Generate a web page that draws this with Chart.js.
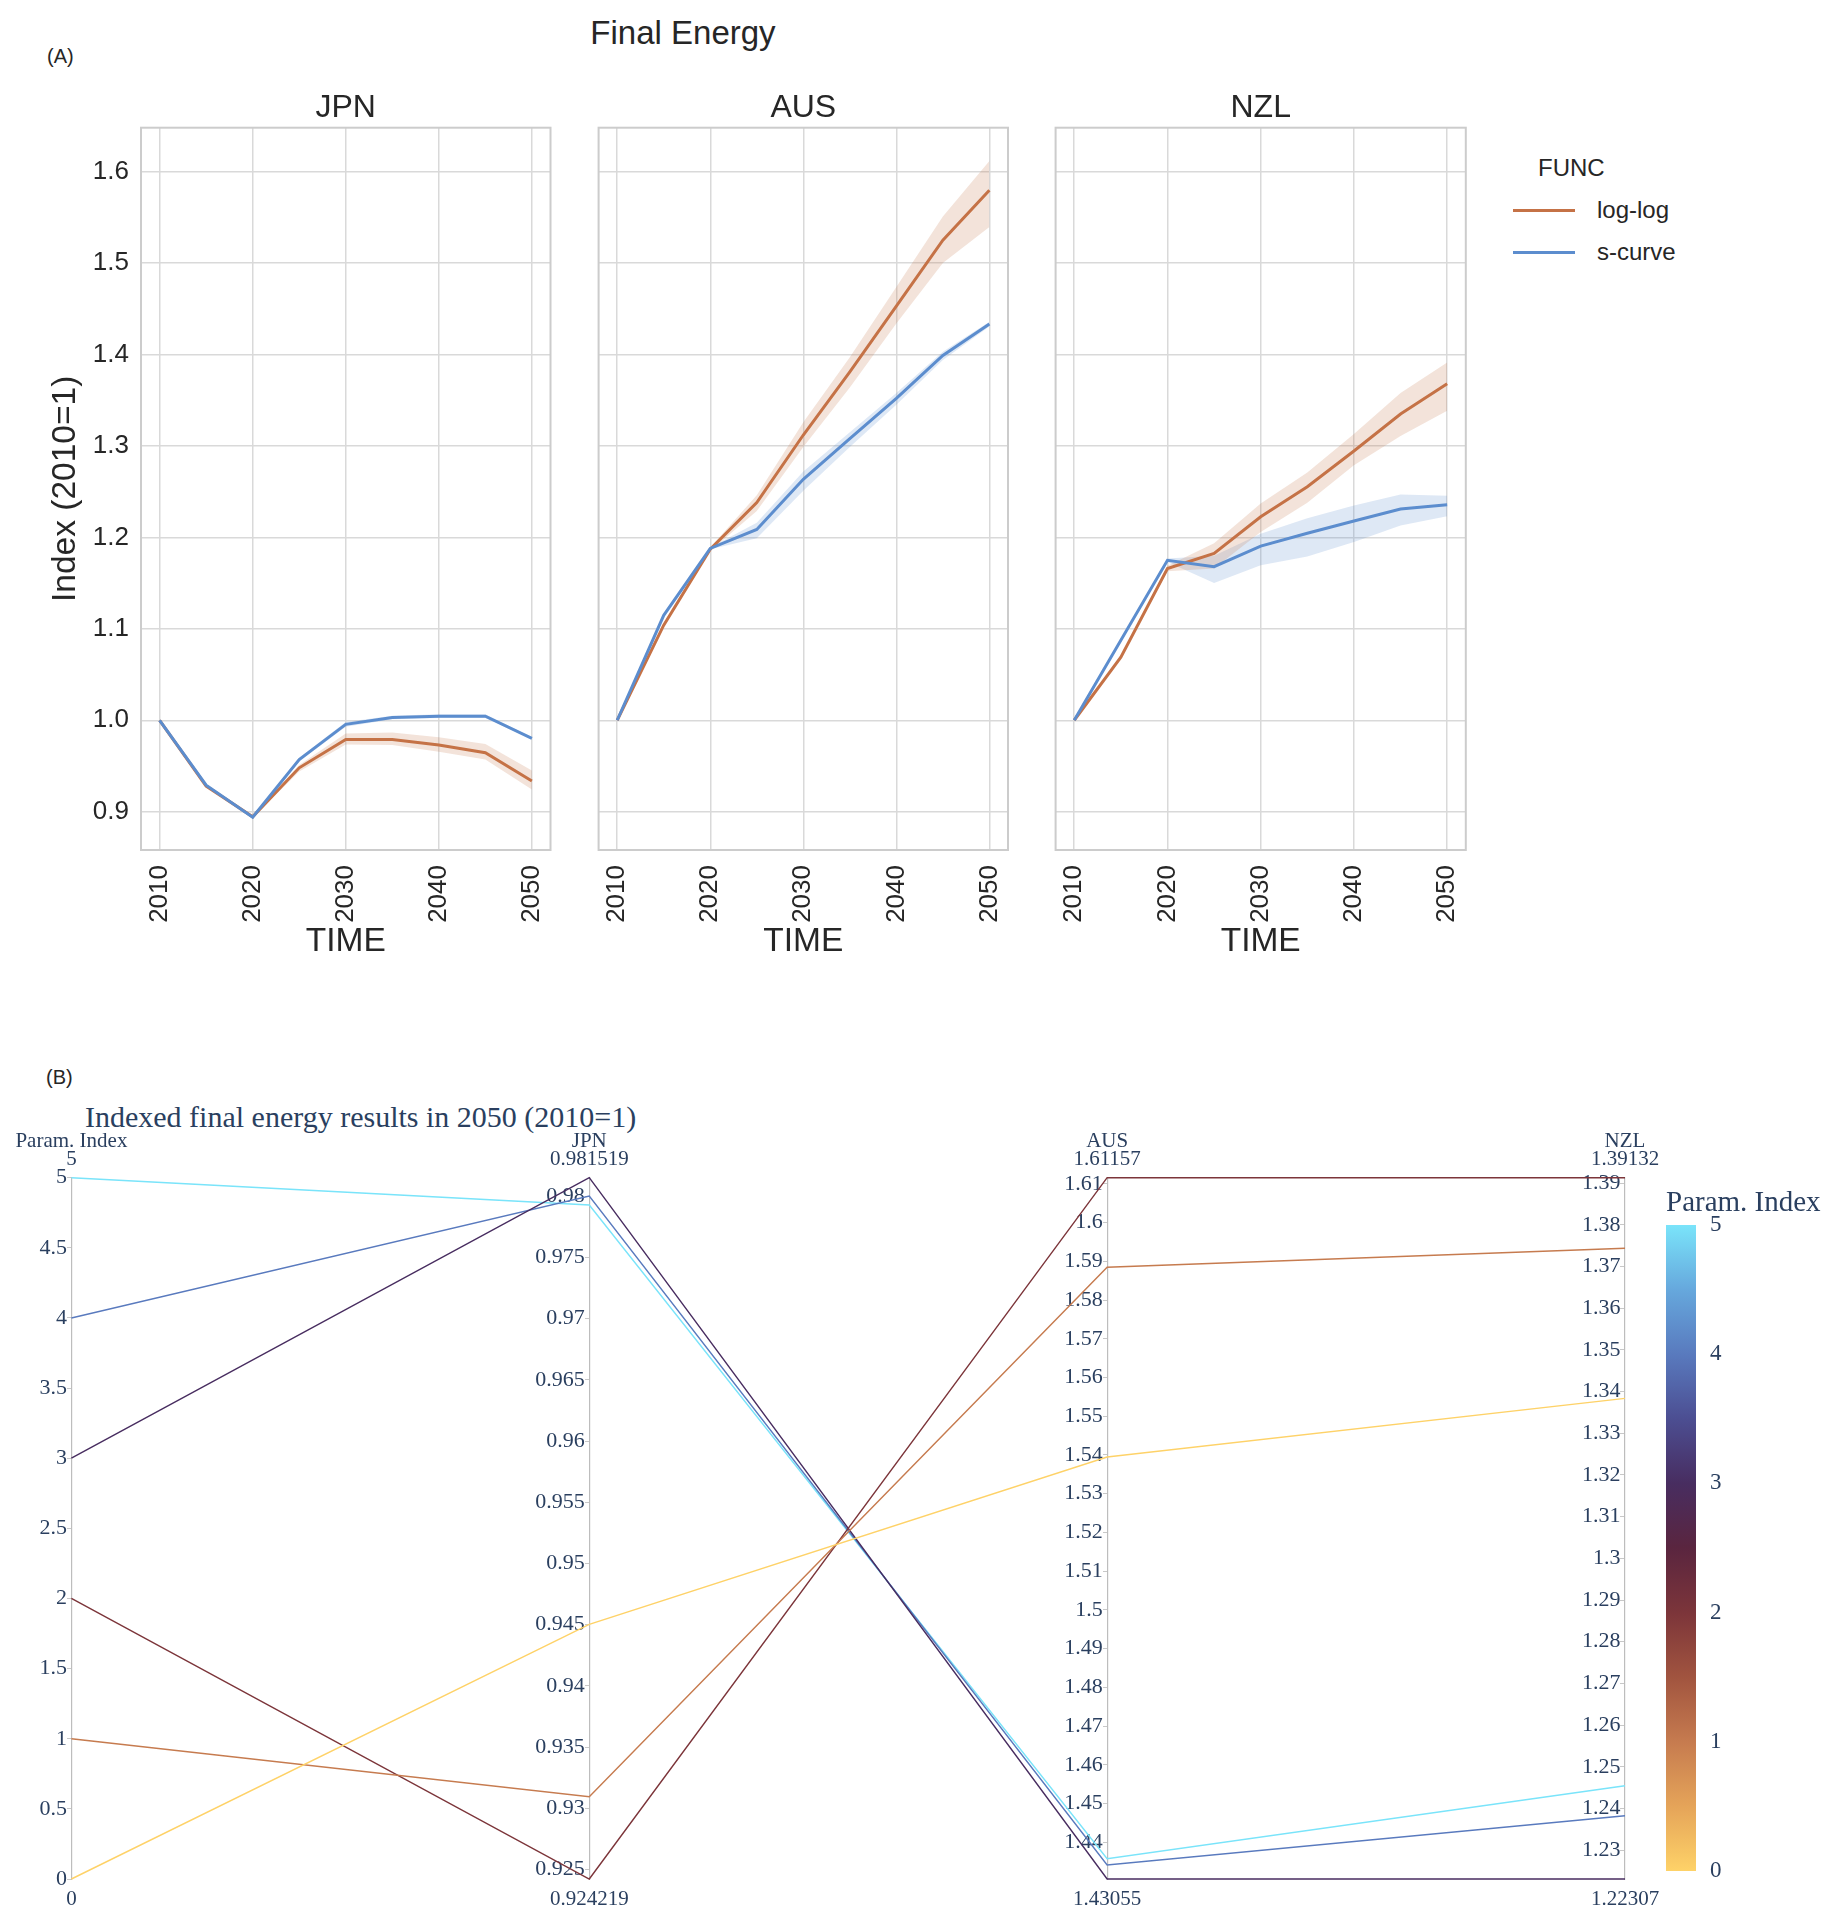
<!DOCTYPE html>
<html>
<head>
<meta charset="utf-8">
<title>Final Energy</title>
<script src="https://cdn.jsdelivr.net/npm/chart.js@4.4.1/dist/chart.umd.min.js"></script>
<style>
  body { margin: 0; background: #fff; }
  #page { position: relative; width: 1839px; height: 1924px; overflow: hidden; font-family: 'Liberation Sans', Arial, sans-serif; color: #262626; }
  canvas { position: absolute; }
  .txt { position: absolute; white-space: nowrap; line-height: 1; }
  .serif { font-family: 'Liberation Serif', 'Times New Roman', serif; color: #2a3f5f; }
  #legendBox { position: absolute; left: 1513px; top: 150px; width: 220px; }
  #legendBox .legendTitle { height: 36px; line-height: 36px; font-size: 24px; padding-left: 25px; }
  #legendBox ul { list-style: none; margin: 0; padding: 0; margin-top: 3px; }
  #legendBox li { position: relative; height: 42px; }
  #legendBox li span { position: absolute; left: 0; top: 20px; width: 62px; height: 2.8px; }
  #legendBox li p { margin: 0; padding-left: 84px; font-size: 24px; line-height: 42px; }
</style>
</head>
<body>
<div id="page">
  <div class="txt" style="left:683px; top:16px; font-size:33px; transform:translateX(-50%);">Final Energy</div>
  <div class="txt" style="left:47px; top:46px; font-size:20px;">(A)</div>

  <canvas id="chartJPN" width="560" height="970" style="left:0px; top:0px;"></canvas>
  <canvas id="chartAUS" width="460" height="970" style="left:560px; top:0px;"></canvas>
  <canvas id="chartNZL" width="460" height="970" style="left:1017px; top:0px;"></canvas>
  <div id="legendBox"><div class="legendTitle">FUNC</div></div>

  <div class="txt" style="left:46px; top:1067px; font-size:20px;">(B)</div>
  <div class="txt serif" style="left:85px; top:1102px; font-size:30px;">Indexed final energy results in 2050 (2010=1)</div>
  <canvas id="chartPar" width="1839" height="834" style="left:0px; top:1090px;"></canvas>
  <div class="txt serif" style="left:1666px; top:1187px; font-size:29px;">Param. Index</div>
  <canvas id="chartBar" width="239" height="760" style="left:1600px; top:1150px;"></canvas>
</div>

<script>
// ---------- (A) indexed final energy by year ----------
const years = [2010, 2015, 2020, 2025, 2030, 2035, 2040, 2045, 2050];
const yearTicks = [2010, 2020, 2030, 2040, 2050];
const indexTicks = [0.9, 1.0, 1.1, 1.2, 1.3, 1.4, 1.5, 1.6];
const funcs = ['log-log', 's-curve'];

// mean line, lower and upper edge of the band
const jpnLogLog   = [1.000, 0.928, 0.8945, 0.948, 0.979, 0.979, 0.973, 0.9645, 0.9335];
const jpnLogLogLo = [1.000, 0.927, 0.8935, 0.944, 0.9735, 0.973, 0.9655, 0.957, 0.9242];
const jpnLogLogHi = [1.000, 0.929, 0.8955, 0.951, 0.9855, 0.9865, 0.9815, 0.974, 0.945];
const jpnSCurve   = [1.000, 0.929, 0.894, 0.957, 0.9955, 1.003, 1.0045, 1.0045, 0.9803];
const jpnSCurveLo = [1.000, 0.928, 0.893, 0.955, 0.993, 1.001, 1.0025, 1.0025, 0.9793];
const jpnSCurveHi = [1.000, 0.930, 0.895, 0.959, 0.998, 1.005, 1.0065, 1.0065, 0.9815];

const ausLogLog   = [1.000, 1.104, 1.187, 1.238, 1.312, 1.381, 1.453, 1.525, 1.5798];
const ausLogLogLo = [1.000, 1.102, 1.185, 1.229, 1.299, 1.364, 1.434, 1.500, 1.5395];
const ausLogLogHi = [1.000, 1.106, 1.189, 1.246, 1.326, 1.397, 1.474, 1.551, 1.6116];
const ausSCurve   = [1.000, 1.1148, 1.188, 1.2087, 1.2635, 1.308, 1.352, 1.399, 1.4335];
const ausSCurveLo = [1.000, 1.114, 1.187, 1.199, 1.251, 1.299, 1.345, 1.394, 1.4306];
const ausSCurveHi = [1.000, 1.116, 1.189, 1.216, 1.272, 1.315, 1.358, 1.403, 1.4358];

const nzlLogLog   = [1.000, 1.069, 1.166, 1.1824, 1.2225, 1.2555, 1.2945, 1.335, 1.368];
const nzlLogLogLo = [1.000, 1.068, 1.163, 1.166, 1.206, 1.238, 1.279, 1.311, 1.3384];
const nzlLogLogHi = [1.000, 1.070, 1.169, 1.1935, 1.237, 1.271, 1.313, 1.358, 1.3913];
const nzlSCurve   = [1.000, 1.0874, 1.175, 1.168, 1.1905, 1.2045, 1.218, 1.231, 1.2356];
const nzlSCurveLo = [1.000, 1.086, 1.173, 1.150, 1.1696, 1.179, 1.195, 1.213, 1.2231];
const nzlSCurveHi = [1.000, 1.089, 1.177, 1.180, 1.204, 1.221, 1.235, 1.247, 1.2455];

// ---------- (B) values in 2050 per parameter set ----------
const paramIndex = [0, 1, 2, 3, 4, 5];
const jpn2050 = [0.94503, 0.93094, 0.924219, 0.981519, 0.98002, 0.97929];
const aus2050 = [1.53948, 1.58844, 1.61157, 1.43055, 1.43416, 1.43579];
const nzl2050 = [1.33839, 1.37438, 1.39132, 1.22307, 1.23826, 1.24545];
const dimLabels = ['Param. Index', 'JPN', 'AUS', 'NZL'];
const paramTicks = [0, 0.5, 1, 1.5, 2, 2.5, 3, 3.5, 4, 4.5, 5];
const jpnTicks = [0.925, 0.93, 0.935, 0.94, 0.945, 0.95, 0.955, 0.96, 0.965, 0.97, 0.975, 0.98];
const ausTicks = [1.44, 1.45, 1.46, 1.47, 1.48, 1.49, 1.5, 1.51, 1.52, 1.53, 1.54, 1.55, 1.56, 1.57, 1.58, 1.59, 1.6, 1.61];
const nzlTicks = [1.23, 1.24, 1.25, 1.26, 1.27, 1.28, 1.29, 1.3, 1.31, 1.32, 1.33, 1.34, 1.35, 1.36, 1.37, 1.38, 1.39];
const colorbarTicks = [0, 1, 2, 3, 4, 5];

// colour scale of the parameter index
const cscaleVals = [0, 0.5, 1, 1.5, 2, 2.5, 3, 3.5, 4, 4.5, 5];
const cscaleRgb = [[254,210,104],[229,164,89],[198,123,79],[161,84,63],[124,53,58],[90,37,63],
                   [72,45,96],[76,78,146],[89,122,190],[102,168,221],[122,228,250]];

Chart.defaults.font.family = "'Liberation Sans', Arial, sans-serif";
Chart.defaults.color = '#262626';

const funcColors = { 'log-log': 'rgb(197,114,70)', 's-curve': 'rgb(92,141,206)' };
const bandColors = { 'log-log': 'rgba(197,114,70,0.2)', 's-curve': 'rgba(92,141,206,0.2)' };

const panelData = {
  JPN: { 'log-log': [jpnLogLog, jpnLogLogLo, jpnLogLogHi], 's-curve': [jpnSCurve, jpnSCurveLo, jpnSCurveHi] },
  AUS: { 'log-log': [ausLogLog, ausLogLogLo, ausLogLogHi], 's-curve': [ausSCurve, ausSCurveLo, ausSCurveHi] },
  NZL: { 'log-log': [nzlLogLog, nzlLogLogLo, nzlLogLogHi], 's-curve': [nzlSCurve, nzlSCurveLo, nzlSCurveHi] }
};

const toXY = arr => arr.map((v, i) => ({ x: years[i], y: v }));
const noPad = s => { s.paddingLeft = 0; s.paddingRight = 0; s.paddingTop = 0; s.paddingBottom = 0; };

// light grey box round each panel
const framePlugin = {
  id: 'frame',
  afterDraw(chart) {
    const { ctx, chartArea: a } = chart;
    ctx.save();
    ctx.strokeStyle = '#cccccc';
    ctx.lineWidth = 2;
    ctx.strokeRect(a.left, a.top, a.right - a.left, a.bottom - a.top);
    ctx.restore();
  }
};

function makePanel(id, country, showY, padLeft, padRight) {
  const datasets = [];
  funcs.forEach(f => {
    const [, lo, hi] = panelData[country][f];
    datasets.push({ label: f + ' upper', data: toXY(hi), borderColor: 'rgba(0,0,0,0)', borderWidth: 1,
                    pointRadius: 0, fill: false, order: 3 });
    datasets.push({ label: f + ' lower', data: toXY(lo), borderColor: 'rgba(0,0,0,0)', borderWidth: 1,
                    pointRadius: 0, fill: '-1', backgroundColor: bandColors[f], order: 3 });
  });
  funcs.forEach((f, k) => {
    datasets.push({ label: f, data: toXY(panelData[country][f][0]), borderColor: funcColors[f],
                    backgroundColor: funcColors[f], borderWidth: 3, pointRadius: 0, fill: false,
                    order: 1 - k, isMean: true });
  });

  return new Chart(document.getElementById(id), {
    type: 'line',
    data: { datasets },
    options: {
      responsive: false,
      animation: false,
      layout: { autoPadding: false, padding: { left: padLeft, right: padRight, top: 88.8, bottom: 7.8 } },
      plugins: {
        legend: { display: false, labels: {
          filter: (item, data) => !!data.datasets[item.datasetIndex].isMean,
          sort: (a, b) => a.datasetIndex - b.datasetIndex } },
        tooltip: { enabled: false },
        title: { display: true, text: country, fullSize: false, color: '#262626',
                 font: { size: 32, weight: 'normal' }, padding: { top: 0, bottom: 0.5 } }
      },
      scales: {
        x: {
          type: 'linear', min: 2008, max: 2052,
          afterBuildTicks: s => { s.ticks = yearTicks.map(v => ({ value: v })); },
          afterFit: s => { s.height = 112.2; noPad(s); },
          grid: { color: '#d9d9d9', lineWidth: 1.5, drawTicks: false },
          border: { display: false },
          ticks: { autoSkip: false, minRotation: 90, maxRotation: 90, padding: 15,
                   font: { size: 26 }, color: '#262626', callback: v => String(v) },
          title: { display: true, text: 'TIME', color: '#262626', font: { size: 33.5 }, padding: { top: 0, bottom: 0 } }
        },
        y: {
          type: 'linear', min: 0.8581, max: 1.6481,
          afterBuildTicks: s => { s.ticks = indexTicks.map(v => ({ value: v })); },
          afterFit: s => { s.width = showY ? 141 : 0; noPad(s); },
          grid: { color: '#d9d9d9', lineWidth: 1.5, drawTicks: false },
          border: { display: false },
          ticks: { display: showY, padding: 12, font: { size: 26 }, color: '#262626', callback: v => v.toFixed(1) },
          title: { display: showY, text: 'Index (2010=1)', color: '#262626', font: { size: 33.5 }, padding: { top: 46, bottom: 0 } }
        }
      }
    },
    plugins: [framePlugin]
  });
}

const jpnChart = makePanel('chartJPN', 'JPN', true, 0, 9.5);
const ausChart = makePanel('chartAUS', 'AUS', false, 38.6, 12);
const nzlChart = makePanel('chartNZL', 'NZL', false, 38.6, 11.2);

// Legend built from the chart's own legend items
function generateLegend(chart) {
  const box = document.getElementById('legendBox');
  const ul = document.createElement('UL');
  let items = chart.legend && chart.legend.legendItems ? chart.legend.legendItems.slice() : [];
  if (!items.length) {
    items = chart.data.datasets.filter(d => d.isMean).map(d => ({ text: d.label, strokeStyle: d.borderColor }));
  }
  items.sort((a, b) => funcs.indexOf(a.text) - funcs.indexOf(b.text));
  items.forEach(item => {
    const li = document.createElement('LI');
    const spanLine = document.createElement('SPAN');
    spanLine.style.backgroundColor = item.strokeStyle;
    const p = document.createElement('P');
    p.appendChild(document.createTextNode(item.text));
    li.appendChild(spanLine);
    li.appendChild(p);
    ul.appendChild(li);
  });
  box.appendChild(ul);
}
generateLegend(nzlChart);

// ---------- (B) parallel coordinates ----------
const rgbStr = c => `rgb(${c[0]},${c[1]},${c[2]})`;
function colorAt(v) {
  for (let i = 0; i < cscaleVals.length - 1; i++) {
    if (v <= cscaleVals[i + 1]) {
      const t = (v - cscaleVals[i]) / (cscaleVals[i + 1] - cscaleVals[i]);
      const a = cscaleRgb[i], b = cscaleRgb[i + 1];
      return rgbStr(a.map((c, k) => Math.round(c + (b[k] - c) * t)));
    }
  }
  return rgbStr(cscaleRgb[cscaleRgb.length - 1]);
}

const dims = [paramIndex, jpn2050, aus2050, nzl2050];
const dimTicks = [paramTicks, jpnTicks, ausTicks, nzlTicks];
const ranges = dims.map(d => [Math.min(...d), Math.max(...d)]);
const fmtRange = v => String(parseFloat(v.toPrecision(6)));

const parDatasets = paramIndex.map((p, r) => ({
  label: 'Param ' + p,
  data: dims.map((d, i) => ({ x: i, y: (d[r] - ranges[i][0]) / (ranges[i][1] - ranges[i][0]) })),
  borderColor: colorAt(p),
  borderWidth: 1.4,
  pointRadius: 0,
  fill: false,
  clip: 4
}));

const parScales = {
  x: { type: 'linear', min: 0, max: 3, display: false },
  y: { type: 'linear', min: 0, max: 1, display: false }
};
dims.forEach((d, i) => {
  parScales['d' + i] = {
    type: 'linear', axis: 'y', position: { x: i },
    min: ranges[i][0], max: ranges[i][1],
    afterBuildTicks: s => { s.ticks = dimTicks[i].map(v => ({ value: v })); },
    afterFit: s => { s.width = 0; noPad(s); },
    grid: { drawOnChartArea: false, drawTicks: true, tickLength: 4, color: '#c8c8c8', lineWidth: 1 },
    border: { display: true, color: '#bdbdbd', width: 1.2 },
    // thin space keeps the label off the axis line
    ticks: { padding: 3, font: { family: "'Liberation Serif', 'Times New Roman', serif", size: 22 },
             color: '#2a3f5f', callback: v => String(v) + '\u2009' }
  };
});

// dimension names and their range ends above / below each axis
const dimLabelPlugin = {
  id: 'dimLabels',
  afterDraw(chart) {
    const { ctx, chartArea: a, scales } = chart;
    ctx.save();
    ctx.font = "21px 'Liberation Serif', 'Times New Roman', serif";
    ctx.fillStyle = '#2a3f5f';
    ctx.textAlign = 'center';
    ctx.textBaseline = 'middle';
    dims.forEach((d, i) => {
      const x = scales.x.getPixelForValue(i);
      ctx.fillText(dimLabels[i], x, a.top - 36);
      ctx.fillText(fmtRange(ranges[i][1]), x, a.top - 18);
      ctx.fillText(fmtRange(ranges[i][0]), x, a.bottom + 20);
    });
    ctx.restore();
  }
};

const parChart = new Chart(document.getElementById('chartPar'), {
  type: 'line',
  data: { datasets: parDatasets },
  options: {
    responsive: false,
    animation: false,
    layout: { autoPadding: false, padding: { left: 71.4, right: 214, top: 87.7, bottom: 45 } },
    plugins: { legend: { display: false }, tooltip: { enabled: false } },
    scales: parScales
  },
  plugins: [dimLabelPlugin]
});

// colour bar: one floating bar 0..5 with the colour scale as gradient
const barChart = new Chart(document.getElementById('chartBar'), {
  type: 'bar',
  data: {
    labels: ['Param. Index'],
    datasets: [{
      data: [[colorbarTicks[0], colorbarTicks[colorbarTicks.length - 1]]],
      borderWidth: 0,
      categoryPercentage: 1,
      barPercentage: 1,
      backgroundColor(ctx) {
        const a = ctx.chart.chartArea;
        if (!a) return 'rgba(0,0,0,0)';
        const g = ctx.chart.ctx.createLinearGradient(0, a.bottom, 0, a.top);
        cscaleVals.forEach((v, i) => g.addColorStop(v / 5, rgbStr(cscaleRgb[i])));
        return g;
      }
    }]
  },
  options: {
    responsive: false,
    animation: false,
    layout: { autoPadding: false, padding: { left: 66, right: 0, top: 75, bottom: 39 } },
    plugins: { legend: { display: false }, tooltip: { enabled: false } },
    scales: {
      x: { display: false },
      y: {
        position: 'right', min: 0, max: 5,
        afterBuildTicks: s => { s.ticks = colorbarTicks.map(v => ({ value: v })); },
        afterFit: s => { s.width = 143; noPad(s); },
        grid: { display: false },
        border: { display: false },
        ticks: { padding: 6, font: { family: "'Liberation Serif', 'Times New Roman', serif", size: 23 },
                 color: '#2a3f5f', callback: v => String(v) }
      }
    }
  }
});
</script>
</body>
</html>
